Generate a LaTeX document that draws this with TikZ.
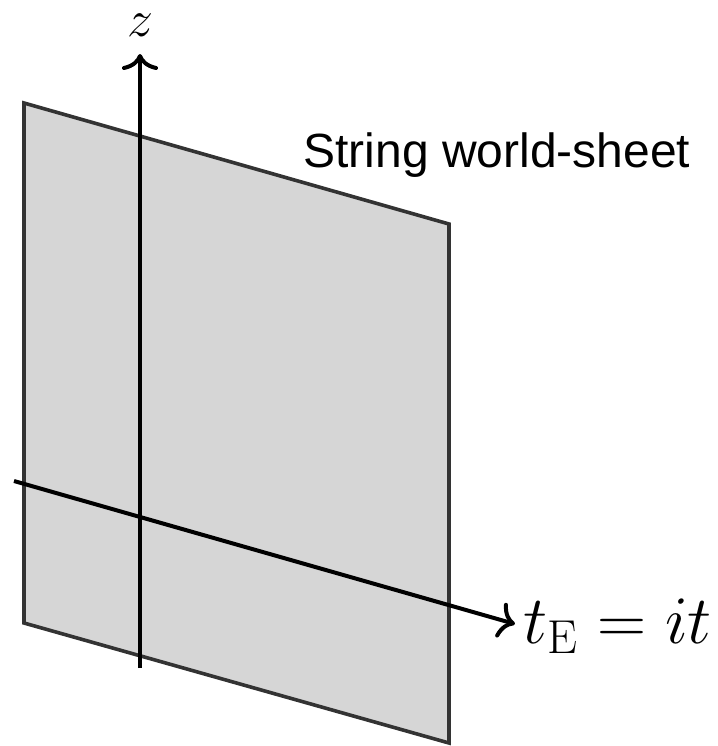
\RequirePackage{fix-cm}
\documentclass[tikz,border=0pt]{standalone}
\usepackage{fontspec}
\setsansfont{Liberation Sans}
\usepackage{amsmath}
\usetikzlibrary{arrows.meta}
\definecolor{sheetgray}{rgb}{0.84,0.84,0.84}
\definecolor{edgegray}{rgb}{0.2,0.2,0.2}
\begin{document}
\begin{tikzpicture}[x=0.5pt,y=-0.5pt,
  axis/.style={line width=2pt,-{Computer Modern Rightarrow[length=8pt,width=18pt,line width=2pt]}},
  sheet/.style={fill=sheetgray,draw=edgegray,line width=1.8pt,line join=miter},
  axislabel/.style={inner sep=0pt,font=\fontsize{34}{40}\selectfont}]
\useasboundingbox (0,0) rectangle (718,746);

% World-sheet (parallelogram)
\draw[sheet] (24,103) -- (449,224) -- (449,743) -- (24,623) -- cycle;
\node[font=\sffamily\fontsize{24}{29}\selectfont] (title) at (497,155) {String world-sheet};

% Axis ends
\coordinate (zbot) at (140,668);
\coordinate (ztip) at (140,54);
\coordinate (tstart) at (14,481);
\coordinate (ttip) at (515,624);

% Axes
\draw[axis] (zbot) -- (ztip);
\draw[axis] (tstart) -- (ttip);
\node[axislabel,font=\fontsize{26}{30}\selectfont] (zlab) at (140,25) {$z$};
\node[axislabel,anchor=west] (tlab) at ([xshift=4pt,yshift=-1pt]ttip) {$t_{\mathrm{E}} = it$};
\end{tikzpicture}
\end{document}
